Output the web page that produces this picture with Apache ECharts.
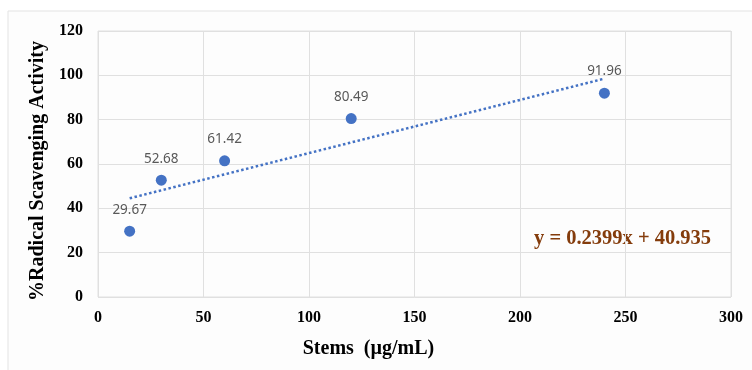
<!DOCTYPE html>
<html>
<head>
<meta charset="utf-8">
<script src="https://cdn.jsdelivr.net/npm/echarts@6/dist/echarts.min.js"></script>
<style>
  html, body { margin: 0; padding: 0; background: #ffffff; }
  #chart { width: 752px; height: 370px; }
</style>
</head>
<body>
<div id="chart"></div>
<script>
// concentrations (µg/mL) and measured activity
const concentrations = [15, 30, 60, 120, 240];
const activity = [29.67, 52.68, 61.42, 80.49, 91.96];
// linear trendline endpoints, y = 0.2399x + 40.935
const trendX = [15, 240];
const trendY = [44.53, 98.51];
const xTicks = [0, 50, 100, 150, 200, 250, 300];
const yTicks = [0, 20, 40, 60, 80, 100, 120];
const equation = "y = 0.2399x + 40.935";

const chart = echarts.init(document.getElementById("chart"), null, { renderer: "canvas" });
const serif = "'Liberation Serif', 'DejaVu Serif', serif";
const blue = "#4472c4";

chart.setOption({
  backgroundColor: "#ffffff",
  animation: false,
  graphic: [
    {
      type: "rect",
      z: -10,
      shape: { x: 8, y: 11, width: 760, height: 380 },
      style: { fill: "#fdfdfd", stroke: "#e3e3e3", lineWidth: 1 }
    },
    {
      type: "text",
      left: 534,
      top: 228,
      style: { text: equation, fill: "#843c0c", font: "bold 20.5px " + serif }
    }
  ],
  grid: { left: 98, right: 21, top: 31, bottom: 73, show: true, borderColor: "#e0e0e0", borderWidth: 1 },
  xAxis: {
    type: "value",
    min: 0, max: 300, interval: 50,
    name: "Stems  (µg/mL)",
    nameLocation: "middle",
    nameGap: 42,
    nameTextStyle: { fontFamily: serif, fontWeight: "bold", fontSize: 20, color: "#000", padding: [0, 92, 0, 0] },
    axisLine: { show: false },
    axisTick: { show: false },
    axisLabel: { fontFamily: serif, fontWeight: "bold", fontSize: 16, color: "#000", margin: 13,
      formatter: (v) => xTicks.includes(v) ? String(v) : "" },
    splitLine: { lineStyle: { color: "#e0e0e0" } }
  },
  yAxis: {
    type: "value",
    min: 0, max: 120, interval: 20,
    name: "%Radical Scavenging Activity",
    nameLocation: "middle",
    nameGap: 48,
    nameTextStyle: { fontFamily: serif, fontWeight: "bold", fontSize: 20, color: "#000", padding: [0, 14, 0, 0] },
    axisLine: { show: false },
    axisTick: { show: false },
    axisLabel: { fontFamily: serif, fontWeight: "bold", fontSize: 16, color: "#000", margin: 15,
      formatter: (v) => yTicks.includes(v) ? String(v) : "" },
    splitLine: { lineStyle: { color: "#e0e0e0" } }
  },
  series: [
    {
      type: "line",
      data: trendX.map((x, i) => [x, trendY[i]]),
      symbol: "none",
      lineStyle: { color: blue, width: 2.5, type: [2.5, 2.5] },
      z: 2
    },
    {
      type: "scatter",
      data: concentrations.map((x, i) => [x, activity[i]]),
      symbolSize: 11,
      itemStyle: { color: blue, opacity: 1 },
      label: {
        show: true,
        position: "top",
        distance: 9,
        formatter: (p) => p.value[1].toFixed(2),
        fontFamily: "'Noto Sans', 'Open Sans', sans-serif",
        fontSize: 13.5,
        color: "#595959"
      },
      z: 3
    }
  ]
});
</script>
</body>
</html>
